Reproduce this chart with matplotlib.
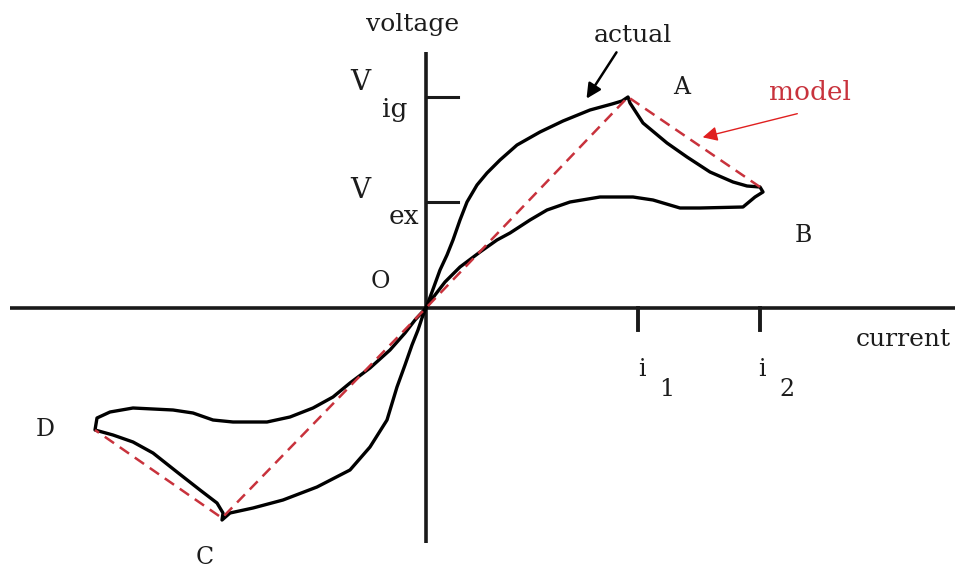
import matplotlib.pyplot as plt

# Values in drawing units, origin O at (0, 0)
i1, i2 = 212, 334
v_ig, v_ex = 211, 106

# actual curve, upper loop: O -> A (rising), A -> B (falling), B -> O (return)
upper_x = [0, 6, 14, 21, 27, 34, 41, 51, 61, 74, 91, 114, 137, 164, 186, 196, 202,
           204, 217, 241, 261, 284, 307, 321, 334, 337, 329,
           317, 274, 254, 227, 207, 174, 144, 121, 104, 84, 71, 54, 34, 19, 9, 0]
upper_y = [0, 16, 38, 53, 68, 88, 106, 123, 135, 148, 163, 176, 187, 198, 204, 207, 211,
           205, 185, 165, 151, 136, 126, 122, 121, 116, 111,
           101, 100, 100, 108, 111, 111, 106, 98, 88, 75, 68, 56, 41, 26, 13, 0]

# actual curve, lower loop: O -> D (upper branch), D -> C, C -> O
lower_x = [0, -11, -21, -36, -56, -76, -93, -113, -136, -159, -193, -213, -233, -253,
           -293, -316, -329, -331,
           -313, -293, -273, -249, -226, -209, -203, -204,
           -196, -173, -143, -109, -76, -56, -39, -29, -21, -14, -8, -4, 0]
lower_y = [0, -12, -25, -42, -60, -75, -89, -100, -109, -114, -114, -112, -105, -102,
           -100, -104, -110, -122,
           -127, -134, -145, -164, -182, -195, -205, -212,
           -205, -200, -192, -179, -162, -139, -112, -79, -57, -37, -22, -10, 0]

# piecewise-linear model: B - A - O - C - D
model_x = [334, 202, 0, -204, -331]
model_y = [121, 211, 0, -210, -122]

serif = 'DejaVu Serif'
red = '#c8323c'

fig = plt.figure(figsize=(9.64, 5.72), dpi=100)
ax = fig.add_axes([0, 0, 1, 1])
ax.set_xlim(-426, 538)
ax.set_ylim(-264, 308)
ax.axis('off')

# axes of the diagram
ax.plot([-416, 529], [0, 0], color='#1a1a1a', lw=2.6, solid_capstyle='butt')
ax.plot([0, 0], [-235, 256], color='#1a1a1a', lw=2.6, solid_capstyle='butt')
for v in (v_ig, v_ex):
    ax.plot([0, 32], [v, v], color='#1a1a1a', lw=2.2)
for i in (i1, i2):
    ax.plot([i, i], [0, -22], color='#1a1a1a', lw=2.8)

# curves
ax.plot(upper_x, upper_y, color='black', lw=2.4, solid_joinstyle='round')
ax.plot(lower_x, lower_y, color='black', lw=2.4, solid_joinstyle='round')
ax.plot(model_x, model_y, color=red, lw=1.8, dashes=(4.5, 2.8), zorder=3)

# labels
tk = dict(family=serif, color='#1c1c1c', ha='center', va='center')
ax.text(-13, 283, 'voltage', fontsize=18, **tk)
ax.text(207, 273, 'actual', fontsize=18, **tk)
ax.text(477, -32, 'current', fontsize=18, **tk)
ax.text(384, 216, 'model', fontsize=19, family=serif, color=red, ha='center', va='center')

ax.text(-66, 225, 'V', fontsize=20, **tk)
ax.text(-31, 198, 'ig', fontsize=19, **tk)
ax.text(-66, 118, 'V', fontsize=20, **tk)
ax.text(-22, 91, 'ex', fontsize=19, **tk)

ax.text(216, -62, 'i', fontsize=17, **tk)
ax.text(241, -82, '1', fontsize=17, **tk)
ax.text(336, -62, 'i', fontsize=17, **tk)
ax.text(361, -82, '2', fontsize=17, **tk)

ax.text(256, 220, 'A', fontsize=17, **tk)
ax.text(377, 73, 'B', fontsize=17, **tk)
ax.text(-221, -250, 'C', fontsize=17, **tk)
ax.text(-381, -122, 'D', fontsize=17, **tk)
ax.text(-46, 26, 'O', fontsize=17, **tk)

# pointer arrows
ax.annotate('', xy=(159, 207), xytext=(192, 258),
            arrowprops=dict(arrowstyle='-|>', color='black', lw=1.8, mutation_scale=22))
ax.annotate('', xy=(274, 170), xytext=(374, 195),
            arrowprops=dict(arrowstyle='-|>', color='#e02020', lw=1.0, mutation_scale=22))

fig.savefig('out.png', dpi=100, facecolor='white')
